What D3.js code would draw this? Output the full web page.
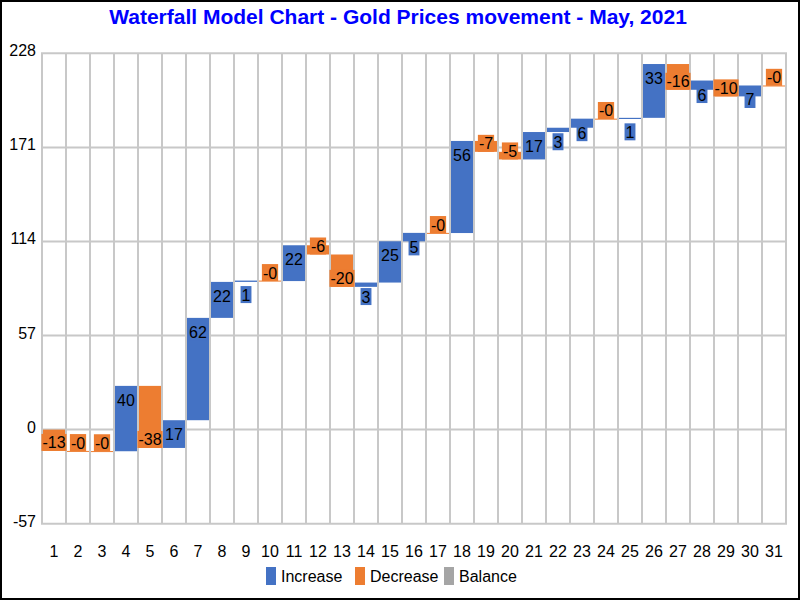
<!DOCTYPE html>
<html>
<head>
<meta charset="utf-8">
<script src="https://cdn.jsdelivr.net/npm/d3@7"></script>
<style>
  body { margin: 0; background: #fff; }
  svg { display: block; font-family: Arial, "Liberation Sans", sans-serif; }
</style>
</head>
<body>
<div id="chart"></div>
<script>
// Data - daily gold price movement, May 2021
var days = ["1","2","3","4","5","6","7","8","9","10","11","12","13","14","15","16",
            "17","18","19","20","21","22","23","24","25","26","27","28","29","30","31"];
var changes = [-12.9, -0.1, -0.1, 39.6, -37.6, 16.8, 62.0, 21.8, 0.8, -0.3, 21.7, -5.6,
               -19.6, 2.6, 25.0, 5.1, -0.1, 55.8, -6.6, -4.6, 16.6, 2.6, 5.5, -0.2,
               0.7, 32.6, -15.6, 5.6, -9.6, 6.6, -0.2];
var yTicks = [-57, 0, 57, 114, 171, 228];
var legendNames = ["Increase", "Decrease", "Balance"];
var legendColors = ["#4472C4", "#ED7D31", "#A5A5A5"];

var width = 800, height = 600;
var margin = {top: 53.3, right: 14, bottom: 76.3, left: 42};

var svg = d3.select("#chart").append("svg")
    .attr("width", width)
    .attr("height", height);

svg.append("rect")
    .attr("x", 1).attr("y", 1)
    .attr("width", width - 2).attr("height", height - 2)
    .attr("fill", "#fff")
    .attr("stroke", "#000")
    .attr("stroke-width", 2);

svg.append("text")
    .attr("x", 398)
    .attr("y", 24)
    .attr("text-anchor", "middle")
    .attr("font-size", 21)
    .attr("font-weight", "bold")
    .attr("fill", "#0000FF")
    .text("Waterfall Model Chart - Gold Prices movement - May, 2021");

var x = d3.scaleBand()
    .domain(days)
    .range([margin.left, width - margin.right])
    .padding(0);

var y = d3.scaleLinear()
    .domain([-57, 228])
    .range([height - margin.bottom, margin.top]);

// running totals
var total = 0;
var steps = changes.map(function(c, i) {
    var start = total;
    total += c;
    return {day: days[i], start: start, end: total, change: c};
});

// grid
var grid = svg.append("g").attr("stroke", "#c8c8c8").attr("stroke-width", 2);
grid.selectAll("line.h")
    .data(yTicks)
    .enter().append("line")
    .attr("class", "h")
    .attr("x1", margin.left - 1).attr("x2", width - margin.right + 1)
    .attr("y1", function(d) { return y(d); })
    .attr("y2", function(d) { return y(d); });
var bounds = days.map(function(d) { return x(d); }).concat([width - margin.right]);
grid.selectAll("line.v")
    .data(bounds)
    .enter().append("line")
    .attr("class", "v")
    .attr("x1", function(d) { return d; }).attr("x2", function(d) { return d; })
    .attr("y1", y(228)).attr("y2", y(-57));

// y axis labels
svg.append("g").selectAll("text")
    .data(yTicks)
    .enter().append("text")
    .attr("x", 36)
    .attr("y", function(d) { return y(d) + 3; })
    .attr("text-anchor", "end")
    .attr("font-size", 16)
    .attr("fill", "#000")
    .text(function(d) { return d; });

// x axis labels
svg.append("g").selectAll("text")
    .data(days)
    .enter().append("text")
    .attr("x", function(d) { return x(d) + x.bandwidth() / 2; })
    .attr("y", 557)
    .attr("text-anchor", "middle")
    .attr("font-size", 16)
    .attr("fill", "#000")
    .text(function(d) { return d; });

// bars
svg.append("g").selectAll("rect")
    .data(steps)
    .enter().append("rect")
    .attr("x", function(d) { return x(d.day) + 1; })
    .attr("width", x.bandwidth() - 2)
    .attr("y", function(d) { return y(Math.max(d.start, d.end)); })
    .attr("height", function(d) { return Math.max(1, Math.abs(y(d.start) - y(d.end))); })
    .attr("fill", function(d) { return d.change >= 0 ? legendColors[0] : legendColors[1]; });

// value labels with coloured background
var labels = svg.append("g").selectAll("g")
    .data(steps)
    .enter().append("g")
    .attr("transform", function(d) {
        var cy = d.change >= 0 ? y(d.end) + 14 : y(d.end) - 8.5;
        return "translate(" + (x(d.day) + x.bandwidth() / 2) + "," + cy + ")";
    });
labels.append("rect")
    .attr("fill", function(d) { return d.change >= 0 ? legendColors[0] : legendColors[1]; });
labels.append("text")
    .attr("text-anchor", "middle")
    .attr("y", 6)
    .attr("font-size", 16)
    .attr("fill", "#000")
    .text(function(d) { return d.change.toFixed(0); });
labels.each(function() {
    var g = d3.select(this);
    var w = g.select("text").node().getComputedTextLength() + 2;
    g.select("rect")
        .attr("x", -w / 2).attr("width", w)
        .attr("y", -8.5).attr("height", 17);
});

// legend
var legend = svg.append("g").selectAll("g")
    .data(legendNames)
    .enter().append("g")
    .attr("transform", function(d, i) { return "translate(" + (266 + i * 89) + ",567)"; });
legend.append("rect")
    .attr("width", 10).attr("height", 18)
    .attr("fill", function(d, i) { return legendColors[i]; });
legend.append("text")
    .attr("x", 15).attr("y", 15)
    .attr("font-size", 16)
    .attr("fill", "#000")
    .text(function(d) { return d; });
</script>
</body>
</html>
